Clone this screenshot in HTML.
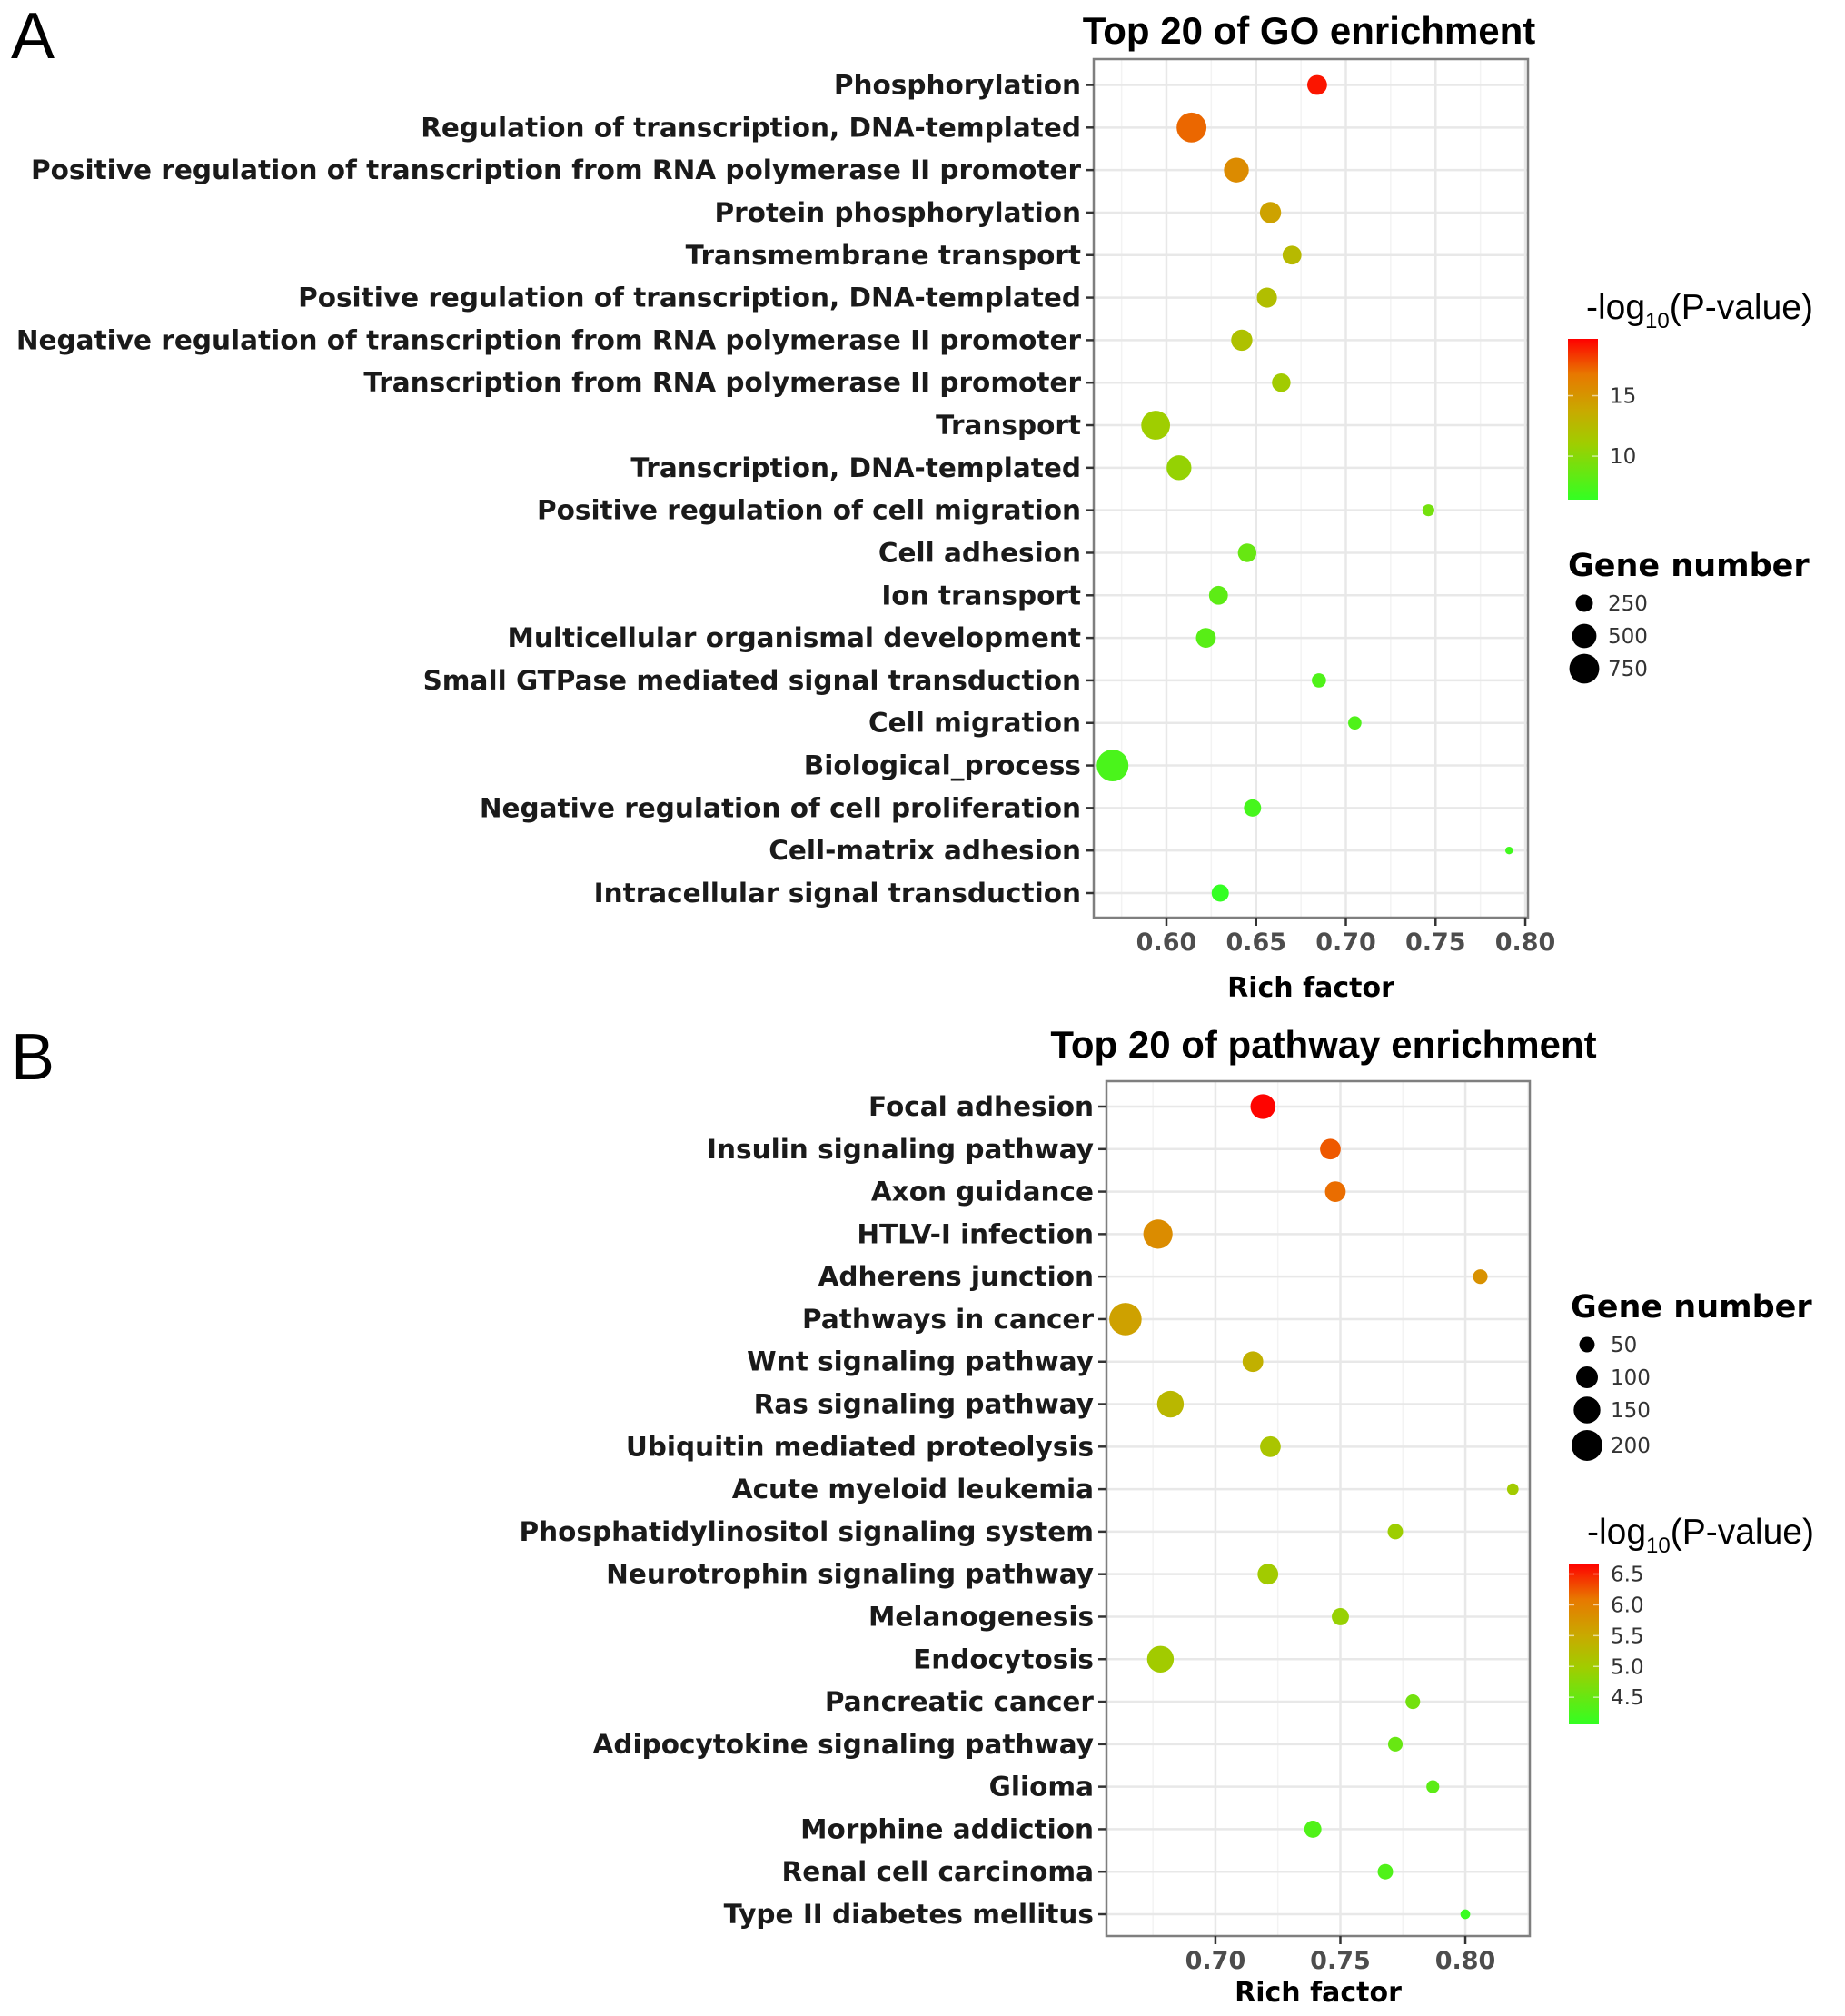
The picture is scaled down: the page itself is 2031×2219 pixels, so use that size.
<!DOCTYPE html>
<html><head><meta charset="utf-8"><style>
html,body{margin:0;padding:0;background:#fff;}
svg{display:block;}
</style></head><body>
<svg id="fig" width="2031" height="2219" viewBox="0 0 2031 2219" xmlns="http://www.w3.org/2000/svg" font-family="DejaVu Sans, Liberation Sans, sans-serif">
<text x="12" y="64" font-size="72" font-family="Liberation Sans, sans-serif">A</text>
<text x="12" y="1188" font-size="72" font-family="Liberation Sans, sans-serif">B</text>
</svg>
<script>
// ---- Panel A data (GO enrichment) ----
const goTerms = ["Phosphorylation","Regulation of transcription, DNA-templated","Positive regulation of transcription from RNA polymerase II promoter","Protein phosphorylation","Transmembrane transport","Positive regulation of transcription, DNA-templated","Negative regulation of transcription from RNA polymerase II promoter","Transcription from RNA polymerase II promoter","Transport","Transcription, DNA-templated","Positive regulation of cell migration","Cell adhesion","Ion transport","Multicellular organismal development","Small GTPase mediated signal transduction","Cell migration","Biological_process","Negative regulation of cell proliferation","Cell-matrix adhesion","Intracellular signal transduction"];
const goRich = [0.684,0.614,0.639,0.658,0.670,0.656,0.642,0.664,0.594,0.607,0.746,0.645,0.629,0.622,0.685,0.705,0.570,0.648,0.791,0.630];
const goLogP = [19.2,17.2,15.6,14.2,12.6,12.2,12.0,11.2,11.0,10.6,9.2,8.6,8.2,8.0,7.6,7.6,7.4,7.2,7.0,6.4];
const goCount = [330,750,520,380,300,340,380,290,700,520,120,290,300,330,170,150,850,250,50,250];
const goTicks = [0.60,0.65,0.70,0.75,0.80];
const goColorTicks = [10,15];
const goSizeTicks = [250,500,750];

// ---- Panel B data (pathway enrichment) ----
const pwTerms = ["Focal adhesion","Insulin signaling pathway","Axon guidance","HTLV-I infection","Adherens junction","Pathways in cancer","Wnt signaling pathway","Ras signaling pathway","Ubiquitin mediated proteolysis","Acute myeloid leukemia","Phosphatidylinositol signaling system","Neurotrophin signaling pathway","Melanogenesis","Endocytosis","Pancreatic cancer","Adipocytokine signaling pathway","Glioma","Morphine addiction","Renal cell carcinoma","Type II diabetes mellitus"];
const pwRich = [0.719,0.746,0.748,0.677,0.806,0.664,0.715,0.682,0.722,0.819,0.772,0.721,0.750,0.678,0.779,0.772,0.787,0.739,0.768,0.800];
const pwLogP = [6.65,6.25,6.15,5.85,5.8,5.6,5.4,5.3,5.1,5.0,4.95,5.0,4.9,5.0,4.6,4.5,4.4,4.3,4.3,4.1];
const pwCount = [130,90,90,180,45,220,90,150,90,28,50,90,62,150,45,45,35,62,50,20];
const pwTicks = [0.70,0.75,0.80];
const pwColorTicks = [4.5,5.0,5.5,6.0,6.5];
const pwSizeTicks = [50,100,150,200];

const NS = "http://www.w3.org/2000/svg";
const svg = document.getElementById('fig');
function mk(tag, attrs, parent){
  const e = document.createElementNS(NS, tag);
  for (const k in attrs) e.setAttribute(k, attrs[k]);
  (parent||svg).appendChild(e);
  return e;
}
const stops = [[0,[51,255,34]],[0.35,[160,205,0]],[0.55,[200,170,0]],[0.78,[232,120,0]],[1,[255,0,0]]];
function colorAt(t){
  t=Math.max(0,Math.min(1,t));
  for(let i=1;i<stops.length;i++){
    if(t<=stops[i][0]){
      const a=stops[i-1],b=stops[i],f=(t-a[0])/(b[0]-a[0]);
      const c=a[1].map((v,j)=>Math.round(v+(b[1][j]-v)*f));
      return `rgb(${c[0]},${c[1]},${c[2]})`;
    }
  }
  return 'rgb(255,0,0)';
}

function panel(cfg){
  const g = mk('g',{});
  
  
  const {L,R,T,B,x0,x1,y0,y1,c0,c1,k} = cfg;
  const xs = v => L + (v-x0)/(x1-x0)*(R-L);
  const n = cfg.terms.length;
  const ys = i => y0 + i*(y1-y0)/(n-1);
  const cs = v => colorAt((v-c0)/(c1-c0));
  const rs = v => k*Math.sqrt(v);
  const tt = mk('text',{x:cfg.titleX,y:cfg.titleY,'font-size':42,'font-weight':'bold','text-anchor':'middle','font-family':'Liberation Sans, sans-serif'},g);
  tt.textContent = cfg.title;
  
  
  mk('rect',{x:L,y:T,width:R-L,height:B-T,fill:'#fff'},g);
  for(let i=0;i<cfg.ticks.length-1;i++){
    const m=(cfg.ticks[i]+cfg.ticks[i+1])/2;
    mk('line',{x1:xs(m),x2:xs(m),y1:T,y2:B,stroke:'#f3f3f3','stroke-width':1.5},g);
  }
  const ml=cfg.ticks[0]-0.025; if(ml>x0) mk('line',{x1:xs(ml),x2:xs(ml),y1:T,y2:B,stroke:'#f3f3f3','stroke-width':1.5},g);
  const mr=cfg.ticks[cfg.ticks.length-1]+0.025; if(mr<x1) mk('line',{x1:xs(mr),x2:xs(mr),y1:T,y2:B,stroke:'#f3f3f3','stroke-width':1.5},g);
  cfg.ticks.forEach(t=>{
    const l=mk('line',{x1:xs(t),x2:xs(t),y1:T,y2:B,stroke:'#e8e8e8','stroke-width':2.5},g);
    
    
  });
  cfg.terms.forEach((_,i)=>{
    mk('line',{x1:L,x2:R,y1:ys(i),y2:ys(i),stroke:'#e8e8e8','stroke-width':2.5},g);
  });
  cfg.terms.forEach((term,i)=>{
    const c = mk('circle',{cx:xs(cfg.rich[i]),cy:ys(i),r:rs(cfg.count[i]),fill:cs(cfg.logp[i])},g);
    
    
  });
  mk('rect',{x:L,y:T,width:R-L,height:B-T,fill:'none',stroke:'#7f7f7f','stroke-width':2.5},g);
  cfg.terms.forEach((term,i)=>{
    mk('line',{x1:L-9,x2:L,y1:ys(i),y2:ys(i),stroke:'#333','stroke-width':2.5},g);
    const t=mk('text',{x:L-14,y:ys(i)+10,'font-size':29.5,'font-weight':'bold','text-anchor':'end',fill:'#1a1a1a'},g);
    t.textContent=term;
    
    
  });
  cfg.ticks.forEach(tv=>{
    mk('line',{x1:xs(tv),x2:xs(tv),y1:B,y2:B+9,stroke:'#333','stroke-width':2.5},g);
    const t=mk('text',{x:xs(tv),y:B+36,'font-size':27,'font-weight':'bold','text-anchor':'middle',fill:'#4d4d4d'},g);
    t.textContent=tv.toFixed(2);
    
    
  });
  const xl=mk('text',{x:(L+R)/2,y:cfg.xlabY,'font-size':30,'font-weight':'bold','text-anchor':'middle'},g);
  xl.textContent='Rich factor';
  
  

  const cl = mk('g',{},g);
  
  
  const ct=mk('text',{x:cfg.cbX+20,y:cfg.cbT-22,'font-size':39,'font-family':'Liberation Sans, sans-serif'},cl);
  ct.innerHTML='-log<tspan font-size="24" dy="10">10</tspan><tspan dy="-10">(P-value)</tspan>';
  const gid='grad'+cfg.name;
  const defs=mk('defs',{},cl);
  const lg=mk('linearGradient',{id:gid,x1:0,y1:1,x2:0,y2:0},defs);
  stops.forEach(s=>mk('stop',{offset:s[0],'stop-color':`rgb(${s[1].join(',')})`},lg));
  mk('rect',{x:cfg.cbX,y:cfg.cbT,width:33,height:cfg.cbB-cfg.cbT,fill:`url(#${gid})`},cl);
  const cby = v => cfg.cbB - (v-c0)/(c1-c0)*(cfg.cbB-cfg.cbT);
  cfg.cticks.forEach(v=>{
    mk('line',{x1:cfg.cbX,x2:cfg.cbX+6,y1:cby(v),y2:cby(v),stroke:'#fff','stroke-width':1.5,opacity:0.6},cl);
    mk('line',{x1:cfg.cbX+27,x2:cfg.cbX+33,y1:cby(v),y2:cby(v),stroke:'#fff','stroke-width':1.5,opacity:0.6},cl);
    const t=mk('text',{x:cfg.cbX+46,y:cby(v)+8,'font-size':23,fill:'#333'},cl);
    t.textContent = cfg.cdec ? v.toFixed(1) : String(v);
  });
  const sl = mk('g',{},g);
  
  
  const st=mk('text',{x:cfg.sX-18,y:cfg.sTitleY,'font-size':35,'font-weight':'bold'},sl);
  st.textContent='Gene number';
  cfg.sticks.forEach((v,i)=>{
    const y=cfg.sY0+i*cfg.sDy[i];
    mk('circle',{cx:cfg.sX,cy:y,r:rs(v),fill:'#000'},sl);
    const t=mk('text',{x:cfg.sX+26,y:y+8,'font-size':23,fill:'#333'},sl);
    t.textContent=String(v);
  });
}

panel({name:'go-enrichment-panel',title:'Top 20 of GO enrichment',titleX:1441,titleY:48,
  terms:goTerms,rich:goRich,logp:goLogP,count:goCount,ticks:goTicks,
  L:1204,R:1682,T:65,B:1010,x0:0.5595,x1:0.8015,y0:93.5,y1:983,c0:6.4,c1:19.7,k:0.6,
  xlabY:1097,cbX:1726,cbT:373,cbB:550,cticks:goColorTicks,cdec:false,
  sX:1744,sTitleY:634,sY0:664,sDy:[36,36,36],sticks:goSizeTicks});

panel({name:'pathway-enrichment-panel',title:'Top 20 of pathway enrichment',titleX:1457,titleY:1164,
  terms:pwTerms,rich:pwRich,logp:pwLogP,count:pwCount,ticks:pwTicks,
  L:1218,R:1684,T:1190,B:2131,x0:0.6564,x1:0.8258,y0:1218,y1:2107,c0:4.06,c1:6.67,k:1.2,
  xlabY:2203,cbX:1727,cbT:1721,cbB:1898,cticks:pwColorTicks,cdec:true,
  sX:1747,sTitleY:1450,sY0:1480,sDy:[36,36,36,37],sticks:pwSizeTicks});
</script>
</body></html>
